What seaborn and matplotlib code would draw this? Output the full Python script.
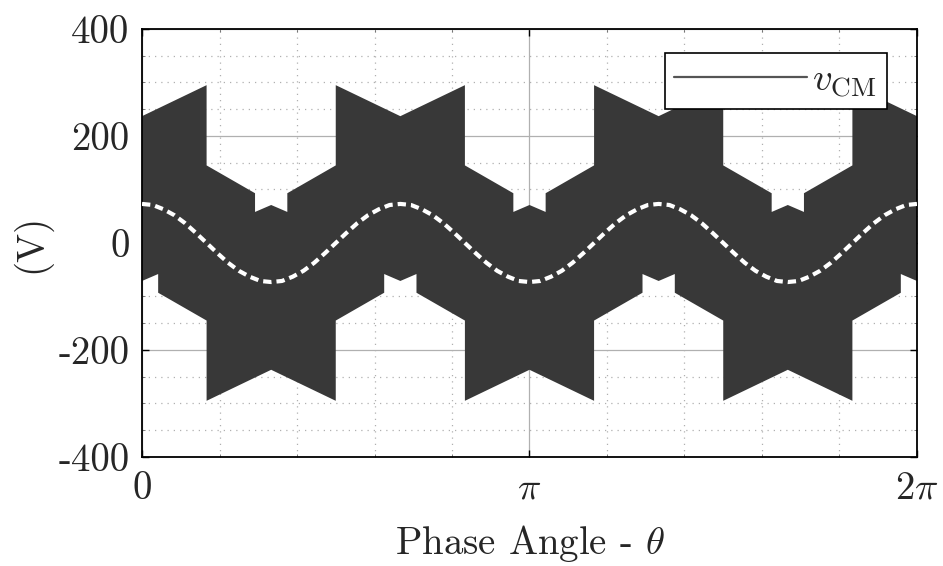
import numpy as np
import matplotlib
matplotlib.use("Agg")
import matplotlib.pyplot as plt
from matplotlib.lines import Line2D
from matplotlib.ticker import MultipleLocator, FixedLocator
import seaborn as sns

# Upper envelope of the switched common-mode voltage (phase angle in degrees, volts)
theta_upper = [0, 30, 30, 52.5, 52.5, 60, 67.5, 67.5, 90, 90,
               120, 150, 150, 172.5, 172.5, 180, 187.5, 187.5, 210, 210,
               240, 270, 270, 292.5, 292.5, 300, 307.5, 307.5, 330, 330, 360]
v_upper = [237, 295, 145, 93, 58, 71, 58, 93, 145, 295,
           237, 295, 145, 93, 58, 71, 58, 93, 145, 295,
           237, 295, 145, 93, 58, 71, 58, 93, 145, 295, 237]

# Lower envelope
theta_lower = [0, 7.5, 7.5, 30, 30, 60, 90, 90, 112.5, 112.5,
               120, 127.5, 127.5, 150, 150, 180, 210, 210, 232.5, 232.5,
               240, 247.5, 247.5, 270, 270, 300, 330, 330, 352.5, 352.5, 360]
v_lower = [-71, -58, -93, -145, -295, -237, -295, -145, -93, -58,
           -71, -58, -93, -145, -295, -237, -295, -145, -93, -58,
           -71, -58, -93, -145, -295, -237, -295, -145, -93, -58, -71]

# Average common-mode voltage v_CM, sampled every 5 degrees
theta_cm = list(range(0, 365, 5))
v_cm = [73, 71, 63, 52, 37, 19, 0, -19, -37, -52, -63, -71, -73, -71, -63, -52, -37, -19, 0, 19, 37, 52, 63, 71,
        73, 71, 63, 52, 37, 19, 0, -19, -37, -52, -63, -71, -73, -71, -63, -52, -37, -19, 0, 19, 37, 52, 63, 71,
        73, 71, 63, 52, 37, 19, 0, -19, -37, -52, -63, -71, -73, -71, -63, -52, -37, -19, 0, 19, 37, 52, 63, 71,
        73]

y_ticks = [-400, -200, 0, 200, 400]
y_tick_labels = ["-400", "-200", "0", "200", "400"]
x_tick_labels = ["0", r"$\pi$", r"$2\pi$"]

sns.set_theme(style="white")
plt.rcParams["font.family"] = ["cmr10", "DejaVu Serif"]
plt.rcParams["mathtext.fontset"] = "cm"
plt.rcParams["axes.unicode_minus"] = False
plt.rcParams["axes.formatter.use_mathtext"] = True

fig = plt.figure(figsize=(9.43, 5.66), dpi=100)
ax = fig.add_axes([0.1506, 0.1926, 0.8218, 0.7562])

rad = np.pi / 180.0
tu = np.array(theta_upper) * rad
tl = np.array(theta_lower) * rad
poly_x = np.concatenate([tu, tl[::-1]])
poly_y = np.concatenate([v_upper, v_lower[::-1]])
ax.fill(poly_x, poly_y, color="#383838", lw=0, zorder=2)

sns.lineplot(x=np.array(theta_cm) * rad, y=v_cm, ax=ax, color="white",
             lw=3.0, linestyle=(0, (2.0, 1.2)), legend=False, zorder=3)

ax.set_xlim(0, 2 * np.pi)
ax.set_ylim(-400, 400)
ax.xaxis.set_major_locator(FixedLocator([0, np.pi, 2 * np.pi]))
ax.xaxis.set_minor_locator(FixedLocator([k * np.pi / 5 for k in range(11)]))
ax.set_xticklabels(x_tick_labels)
ax.yaxis.set_major_locator(FixedLocator(y_ticks))
ax.yaxis.set_minor_locator(MultipleLocator(50))
ax.set_yticklabels(y_tick_labels)

ax.grid(which="major", color="#b0b0b0", lw=0.9, ls="-", zorder=1)
ax.grid(which="minor", color="#b0b0b0", lw=0.9, ls=(0, (1, 4)), zorder=1)
ax.set_axisbelow(True)

ax.tick_params(which="major", direction="in", length=5, width=1, color="black",
               labelsize=28, top=True, right=True, bottom=True, left=True)
ax.tick_params(axis="y", which="major", pad=9)
ax.tick_params(axis="x", which="major", pad=10)
ax.tick_params(which="minor", direction="in", length=2.5, width=0.6, color="#666666",
               top=True, right=True, bottom=True, left=True)
for side in ax.spines.values():
    side.set_color("black")
    side.set_linewidth(1.3)
    side.set_visible(True)

ax.set_xlabel(r"Phase Angle - $\theta$", fontsize=28, labelpad=12)
ax.set_ylabel("(V)", fontsize=28, labelpad=5)

handle = Line2D([], [], color="#555555", lw=1.6)
leg = ax.legend([handle], [r"$v_{\rm CM}$"], loc="upper right",
                bbox_to_anchor=(0.961, 0.944), borderaxespad=0, fontsize=28,
                handlelength=3.4, handletextpad=0.15, borderpad=0.25,
                frameon=True, fancybox=False, edgecolor="black", framealpha=1)
leg.get_frame().set_linewidth(1.2)

fig.savefig("out.png", dpi=100, facecolor="white")
